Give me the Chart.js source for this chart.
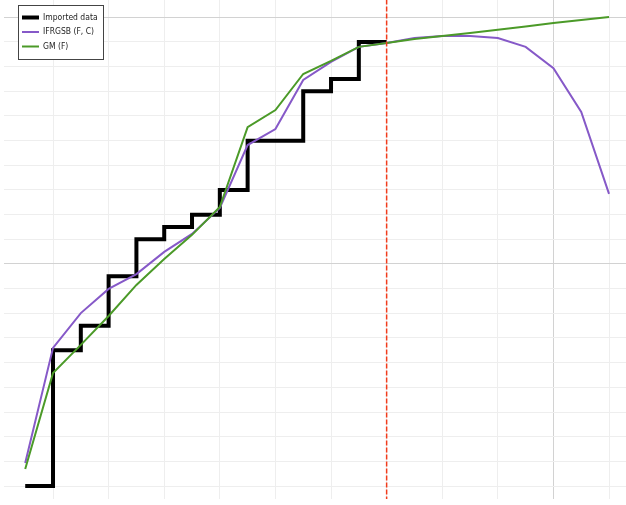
<!DOCTYPE html>
<html>
<head>
<meta charset="utf-8">
<script src="https://cdn.jsdelivr.net/npm/chart.js@4.4.0/dist/chart.umd.min.js"></script>
<style>
  html, body { margin: 0; padding: 0; background: #fff; }
  #wrap { width: 626px; height: 505px; }
</style>
</head>
<body>
<div id="wrap"><canvas id="chart"></canvas></div>
<script>
// Chart values
const xValues = [1, 2, 3, 4, 5, 6, 7, 8, 9, 10, 11, 12, 13, 14, 15, 16, 17, 18, 19, 20, 21, 22];
const importedData = [-9, -3.5, -2.5, -0.5, 1, 1.5, 2, 3, 5, 5, 7, 7.5, 9, 9];
const ifrgsbData = [-8.07, -3.4, -1.99, -1.01, -0.41, 0.49, 1.22, 2.27, 4.82, 5.47, 7.46, 8.19, 8.8, 8.96,
  9.16, 9.24, 9.24, 9.16, 8.8, 7.94, 6.16, 2.84];
const gmData = [-8.31, -4.42, -3.28, -2.11, -0.85, 0.2, 1.18, 2.31, 5.55, 6.24, 7.7, 8.23, 8.8, 8.96,
  9.12, 9.24, 9.36, 9.49, 9.63, 9.77, 9.89, 10.01];
const forecastStart = 14;
const markerSpan = [11, -10];

const toPoints = arr => arr.map((y, i) => ({ x: xValues[i], y }));

// Legend drawn as a bordered box in the top-left corner
const legendBox = {
  id: 'legendBox',
  afterDraw(chart) {
    const ctx = chart.ctx;
    const items = chart.data.datasets.filter(d => d.label);
    ctx.save();
    ctx.fillStyle = '#fff';
    ctx.fillRect(18.5, 5.5, 85, 54);
    ctx.strokeStyle = '#444';
    ctx.lineWidth = 1;
    ctx.strokeRect(18.5, 5.5, 85, 54);
    ctx.font = '8.5px "DejaVu Sans Condensed", "DejaVu Sans", sans-serif';
    ctx.textBaseline = 'middle';
    items.forEach((d, i) => {
      const y = 17.5 + i * 14.5;
      ctx.strokeStyle = d.borderColor;
      ctx.lineWidth = d.borderWidth;
      ctx.beginPath();
      ctx.moveTo(22, y);
      ctx.lineTo(39, y);
      ctx.stroke();
      ctx.fillStyle = '#222';
      ctx.fillText(d.label, 43, y);
    });
    ctx.restore();
  }
};

new Chart(document.getElementById('chart'), {
  type: 'line',
  data: {
    datasets: [{
      label: 'Imported data',
      data: toPoints(importedData),
      borderColor: '#000000',
      borderWidth: 4,
      stepped: 'before',
      pointRadius: 0,
      order: 3
    }, {
      label: 'IFRGSB (F, C)',
      data: toPoints(ifrgsbData),
      borderColor: '#8659c8',
      borderWidth: 2,
      pointRadius: 0,
      order: 2
    }, {
      label: 'GM (F)',
      data: toPoints(gmData),
      borderColor: '#4b9a28',
      borderWidth: 2,
      pointRadius: 0,
      order: 1
    }, {
      data: markerSpan.map(y => ({ x: forecastStart, y })),
      borderColor: '#f23c1c',
      borderWidth: 1.5,
      borderDash: [5, 2],
      pointRadius: 0,
      order: 0
    }]
  },
  options: {
    responsive: true,
    maintainAspectRatio: false,
    animation: false,
    layout: { padding: { left: 4, right: 0, top: 0, bottom: 6 } },
    plugins: {
      legend: { display: false },
      tooltip: { enabled: false }
    },
    scales: {
      x: {
        type: 'linear',
        min: 0.237,
        max: 22.61,
        border: { display: false },
        ticks: { display: false, stepSize: 2, includeBounds: false },
        grid: {
          drawTicks: false,
          color: ctx => (ctx.tick && ctx.tick.value % 20 === 0 ? '#d2d2d2' : '#eeeeee')
        }
      },
      y: {
        min: -9.526,
        max: 10.70,
        border: { display: false },
        ticks: { display: false, stepSize: 1, includeBounds: false },
        grid: {
          drawTicks: false,
          color: ctx => (ctx.tick && ctx.tick.value % 10 === 0 ? '#d2d2d2' : '#eeeeee')
        }
      }
    }
  },
  plugins: [legendBox]
});
</script>
</body>
</html>
